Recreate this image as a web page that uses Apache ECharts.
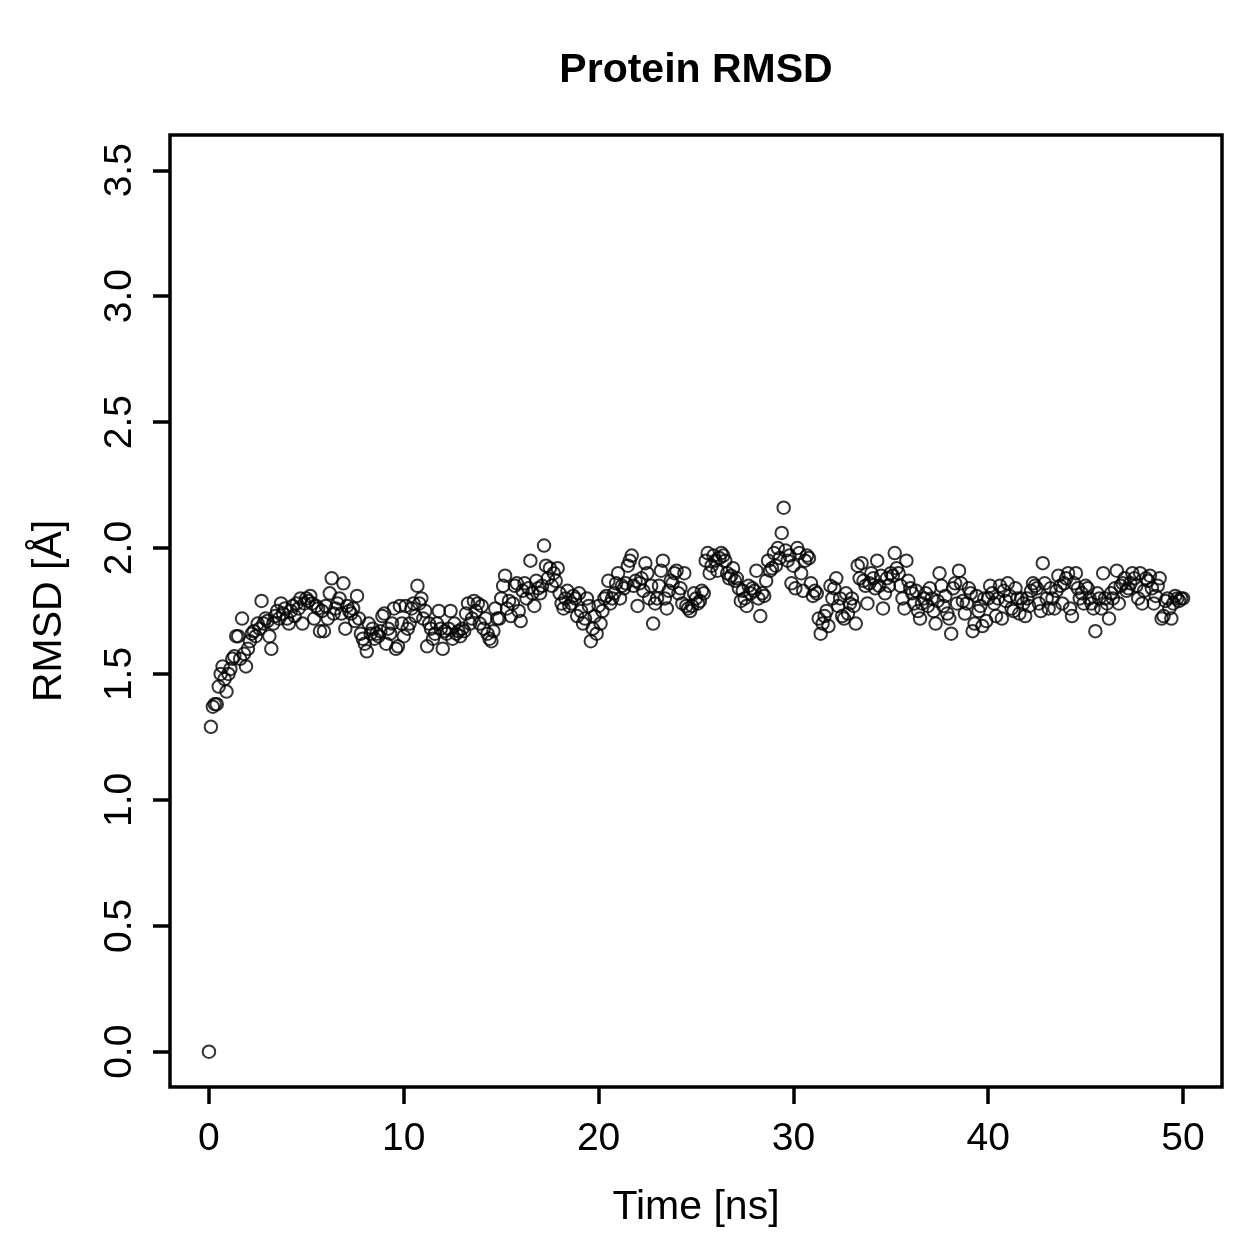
<!DOCTYPE html>
<html><head><meta charset="utf-8">
<script src="https://cdn.jsdelivr.net/npm/echarts@6/dist/echarts.min.js"></script>
<style>html,body{margin:0;padding:0;background:#fff}#c{width:1259px;height:1259px}</style>
</head><body><div id="c"></div>
<script>
const timeStep = 0.1; // ns between frames
const rmsd = [
0.00,1.29,1.37,1.38,1.38,1.45,1.50,1.53,1.48,1.43,
1.50,1.52,1.56,1.57,1.65,1.65,1.56,1.72,1.58,1.53,
1.60,1.63,1.66,1.67,1.65,1.70,1.68,1.79,1.70,1.72,
1.71,1.65,1.60,1.70,1.73,1.75,1.72,1.78,1.74,1.76,
1.72,1.70,1.75,1.77,1.73,1.78,1.76,1.80,1.70,1.78,
1.80,1.79,1.81,1.78,1.72,1.77,1.76,1.67,1.75,1.67,
1.77,1.72,1.82,1.88,1.74,1.76,1.78,1.80,1.74,1.86,
1.68,1.77,1.75,1.74,1.76,1.71,1.81,1.72,1.66,1.64,
1.62,1.59,1.70,1.66,1.68,1.64,1.66,1.65,1.67,1.73,
1.74,1.62,1.68,1.66,1.70,1.76,1.60,1.61,1.77,1.70,
1.65,1.77,1.68,1.70,1.76,1.78,1.73,1.85,1.78,1.80,
1.72,1.75,1.61,1.70,1.68,1.64,1.66,1.70,1.75,1.68,
1.60,1.67,1.66,1.68,1.75,1.64,1.70,1.66,1.67,1.65,
1.68,1.67,1.74,1.78,1.70,1.72,1.79,1.75,1.78,1.70,
1.77,1.68,1.72,1.66,1.64,1.63,1.67,1.76,1.72,1.72,
1.80,1.85,1.89,1.76,1.79,1.73,1.78,1.85,1.86,1.75,
1.71,1.83,1.86,1.80,1.84,1.95,1.82,1.77,1.87,1.84,
1.82,1.85,2.01,1.93,1.88,1.92,1.85,1.90,1.87,1.92,
1.82,1.78,1.76,1.80,1.83,1.77,1.78,1.81,1.80,1.73,
1.82,1.75,1.70,1.72,1.80,1.77,1.63,1.68,1.73,1.66,
1.77,1.70,1.75,1.80,1.81,1.87,1.78,1.80,1.82,1.86,
1.90,1.80,1.85,1.84,1.86,1.93,1.95,1.97,1.85,1.87,
1.77,1.86,1.88,1.83,1.94,1.90,1.80,1.85,1.70,1.78,
1.80,1.85,1.91,1.95,1.80,1.76,1.83,1.87,1.86,1.90,
1.91,1.82,1.84,1.78,1.90,1.77,1.76,1.75,1.77,1.82,
1.80,1.78,1.79,1.83,1.82,1.95,1.98,1.90,1.93,1.97,
1.95,1.91,1.96,1.98,1.97,1.95,1.90,1.88,1.89,1.92,
1.87,1.88,1.84,1.79,1.83,1.80,1.77,1.85,1.82,1.84,
1.83,1.91,1.80,1.73,1.82,1.81,1.87,1.95,1.91,1.92,
1.98,1.93,2.00,1.96,2.06,2.16,1.99,1.95,1.97,1.86,
1.93,1.84,2.00,1.98,1.90,1.83,1.95,1.97,1.96,1.86,
1.81,1.83,1.82,1.72,1.66,1.70,1.73,1.75,1.69,1.85,
1.80,1.84,1.88,1.77,1.80,1.73,1.72,1.82,1.74,1.78,
1.80,1.77,1.70,1.93,1.88,1.94,1.87,1.85,1.78,1.86,
1.90,1.88,1.84,1.95,1.85,1.89,1.76,1.82,1.88,1.85,
1.90,1.89,1.98,1.92,1.90,1.85,1.80,1.76,1.95,1.87,
1.84,1.82,1.78,1.83,1.75,1.72,1.78,1.80,1.82,1.77,
1.84,1.80,1.75,1.70,1.79,1.90,1.85,1.77,1.81,1.74,
1.72,1.66,1.84,1.86,1.78,1.91,1.86,1.79,1.74,1.78,
1.84,1.82,1.67,1.70,1.81,1.75,1.77,1.69,1.80,1.71,
1.80,1.85,1.82,1.78,1.73,1.80,1.85,1.72,1.83,1.79,
1.86,1.81,1.76,1.75,1.84,1.80,1.74,1.80,1.78,1.73,
1.80,1.77,1.83,1.86,1.85,1.84,1.78,1.75,1.94,1.86,
1.80,1.76,1.84,1.80,1.76,1.83,1.89,1.85,1.78,1.86,
1.88,1.90,1.76,1.73,1.86,1.90,1.84,1.80,1.82,1.78,
1.85,1.84,1.80,1.78,1.76,1.67,1.82,1.80,1.76,1.90,
1.80,1.78,1.72,1.82,1.80,1.84,1.91,1.78,1.85,1.86,
1.88,1.83,1.84,1.86,1.90,1.88,1.85,1.80,1.90,1.78,
1.83,1.88,1.87,1.89,1.84,1.78,1.81,1.85,1.88,1.72,
1.73,1.79,1.80,1.76,1.72,1.78,1.81,1.80,1.79,1.80,
1.80
];
const xTicks = [0, 10, 20, 30, 40, 50];
const yTicks = [0, 0.5, 1, 1.5, 2, 2.5, 3, 3.5];

const points = rmsd.map((v, i) => [Math.round(i * timeStep * 10) / 10, v]);
const FONT = 'Liberation Sans, Arial, Helvetica, sans-serif';

const chart = echarts.init(document.getElementById('c'), null, {renderer: 'canvas'});
chart.setOption({
  animation: false,
  backgroundColor: '#fff',
  title: {
    text: 'Protein RMSD', left: 696, textAlign: 'center', top: 50, padding: 0,
    textStyle: {fontFamily: FONT, fontWeight: 'bold', fontSize: 41, color: '#000'}
  },
  grid: {left: 170, top: 135, width: 1052, height: 952, show: true,
    borderColor: '#000', borderWidth: 3.5, backgroundColor: 'transparent'},
  xAxis: {
    type: 'value', min: -2, max: 52,
    name: 'Time [ns]', nameLocation: 'middle', nameGap: 100,
    nameTextStyle: {fontFamily: FONT, fontSize: 41, color: '#000'},
    axisLine: {show: false, onZero: false},
    splitLine: {show: false},
    axisTick: {show: true, length: 17, customValues: xTicks, lineStyle: {color: '#000', width: 3.5}},
    axisLabel: {customValues: xTicks, margin: 33, fontFamily: FONT, fontSize: 39, color: '#000'}
  },
  yAxis: {
    type: 'value', min: -0.14, max: 3.64,
    name: 'RMSD [Å]', nameLocation: 'middle', nameRotate: 90, nameGap: 100,
    nameTextStyle: {fontFamily: FONT, fontSize: 41, color: '#000'},
    axisLine: {show: false, onZero: false},
    splitLine: {show: false},
    axisTick: {show: true, length: 17, customValues: yTicks, lineStyle: {color: '#000', width: 3.5}},
    axisLabel: {customValues: yTicks, rotate: 90, margin: 30, fontFamily: FONT, fontSize: 39, color: '#000',
      formatter: v => v.toFixed(1)}
  },
  series: [{
    type: 'scatter', data: points, symbol: 'circle', symbolSize: 12.5,
    itemStyle: {color: 'rgba(0,0,0,0)', borderColor: '#000', borderWidth: 2},
    emphasis: {disabled: true}
  }]
});
</script></body></html>
